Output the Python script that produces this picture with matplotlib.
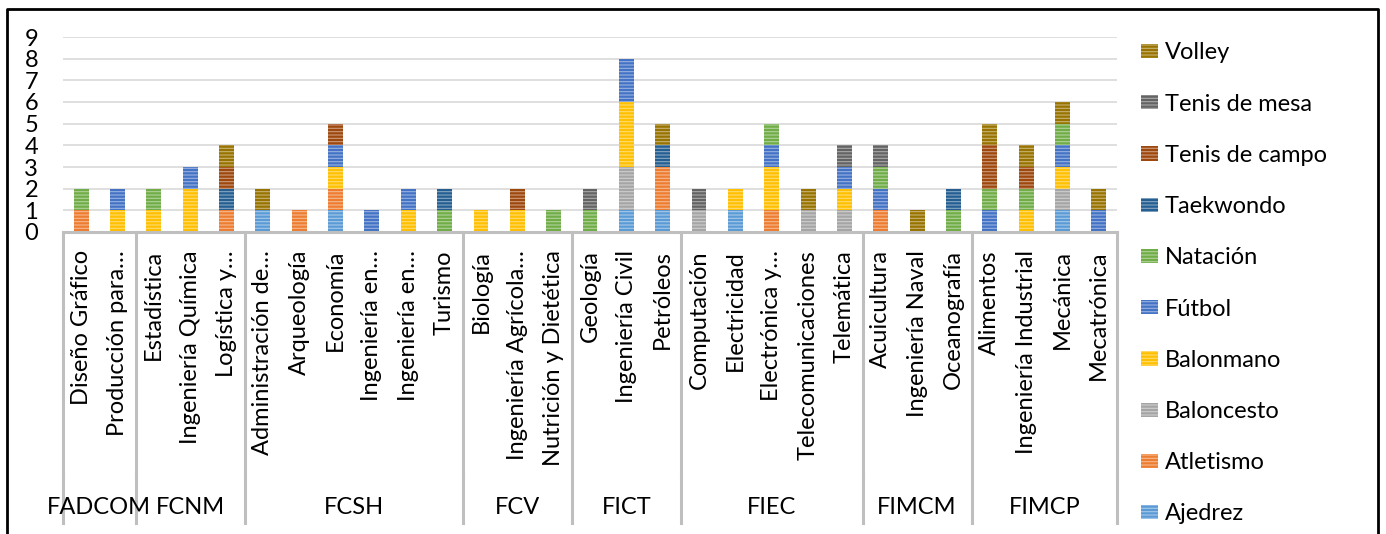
import numpy as np
import matplotlib
matplotlib.use("Agg")
import matplotlib.pyplot as plt
import matplotlib.transforms as mtrans
from matplotlib.lines import Line2D
from matplotlib.patches import Patch
from matplotlib.colors import to_rgb

plt.rcParams['font.family'] = ['Lato', 'DejaVu Sans']
plt.rcParams['hatch.linewidth'] = 0.8

carreras = ["Diseño Gráfico", "Producción para…", "Estadística", "Ingeniería Química",
            "Logística y…", "Administración de…", "Arqueología", "Economía",
            "Ingeniería en…", "Ingeniería en…", "Turismo", "Biología",
            "Ingeniería Agrícola…", "Nutrición y Dietética", "Geología",
            "Ingeniería Civil", "Petróleos", "Computación", "Electricidad",
            "Electrónica y…", "Telecomunicaciones", "Telemática", "Acuicultura",
            "Ingeniería Naval", "Oceanografía", "Alimentos", "Ingeniería Industrial",
            "Mecánica", "Mecatrónica"]
facultades = ["FADCOM", "FCNM", "FCSH", "FCV", "FICT", "FIEC", "FIMCM", "FIMCP"]
n_carreras = [2, 3, 6, 3, 3, 5, 3, 4]

deportes = ["Ajedrez", "Atletismo", "Baloncesto", "Balonmano", "Fútbol",
            "Natación", "Taekwondo", "Tenis de campo", "Tenis de mesa", "Volley"]
ajedrez     = [0,0,0,0,0, 1,0,1,0,0,0, 0,0,0, 0,1,1, 0,1,0,0,0, 0,0,0, 0,0,1,0]
atletismo   = [1,0,0,0,1, 0,1,1,0,0,0, 0,0,0, 0,0,2, 0,0,1,0,0, 1,0,0, 0,0,0,0]
baloncesto  = [0,0,0,0,0, 0,0,0,0,0,0, 0,0,0, 0,2,0, 1,0,0,1,1, 0,0,0, 0,0,1,0]
balonmano   = [0,1,1,2,0, 0,0,1,0,1,0, 1,1,0, 0,3,0, 0,1,2,0,1, 0,0,0, 0,1,1,0]
futbol      = [0,1,0,1,0, 0,0,1,1,1,0, 0,0,0, 0,2,0, 0,0,1,0,1, 1,0,0, 1,0,1,1]
natacion    = [1,0,1,0,0, 0,0,0,0,0,1, 0,0,1, 1,0,0, 0,0,1,0,0, 1,0,1, 1,1,1,0]
taekwondo   = [0,0,0,0,1, 0,0,0,0,0,1, 0,0,0, 0,0,1, 0,0,0,0,0, 0,0,1, 0,0,0,0]
tenis_campo = [0,0,0,0,1, 0,0,1,0,0,0, 0,1,0, 0,0,0, 0,0,0,0,0, 0,0,0, 2,1,0,0]
tenis_mesa  = [0,0,0,0,0, 0,0,0,0,0,0, 0,0,0, 1,0,0, 1,0,0,0,1, 1,0,0, 0,0,0,0]
volley      = [0,0,0,0,1, 1,0,0,0,0,0, 0,0,0, 0,0,1, 0,0,0,1,0, 0,1,0, 1,1,1,1]
series = [ajedrez, atletismo, baloncesto, balonmano, futbol,
          natacion, taekwondo, tenis_campo, tenis_mesa, volley]
colores = ["#5B9BD5", "#ED7D31", "#A5A5A5", "#FFC000", "#4472C4",
           "#70AD47", "#255E91", "#9E480E", "#636363", "#997300"]


def lighter(c, f=0.45):
    r, g, b = to_rgb(c)
    return (r + (1 - r) * f, g + (1 - g) * f, b + (1 - b) * f)


W, H = 1386, 534
fig = plt.figure(figsize=(W / 100, H / 100), dpi=100)
ax = fig.add_axes([63 / W, 302 / H, (1117 - 63) / W, (497 - 302) / H])

x = np.arange(len(carreras))
bottom = np.zeros(len(carreras))
handles = []
for nombre, vals, col in zip(deportes, series, colores):
    vals = np.array(vals, dtype=float)
    ax.bar(x, vals, 0.41, bottom=bottom, color=col, edgecolor=lighter(col),
           linewidth=0, hatch="-----")
    bottom += vals
    handles.append(Patch(facecolor=col, edgecolor=lighter(col), linewidth=0,
                         hatch="-----", label=nombre))

ax.set_xlim(-0.5, len(carreras) - 0.5)
ax.set_ylim(0, 9)
ax.set_yticks(range(10))
ax.yaxis.grid(True, color="#D9D9D9", linewidth=1.2)
ax.set_axisbelow(True)
for s in ["top", "right", "left"]:
    ax.spines[s].set_visible(False)
ax.spines["bottom"].set_color("#BFBFBF")
ax.spines["bottom"].set_linewidth(2.2)
ax.tick_params(axis="y", length=0, pad=18, labelsize=17)
ax.set_xticks(x)
ax.set_xticklabels(carreras, rotation=90, fontsize=17)
ax.tick_params(axis="x", length=0, pad=13)

# faculty level of the axis
tr = mtrans.blended_transform_factory(ax.transData, fig.transFigure)
edges = np.concatenate([[0], np.cumsum(n_carreras)]) - 0.5
for e in edges:
    fig.add_artist(Line2D([e, e], [61 / H, 302 / H], transform=tr,
                          color="#BFBFBF", linewidth=2.2))
    fig.add_artist(Line2D([e, e], [11 / H, 59 / H], transform=tr,
                          color="#BFBFBF", linewidth=2.2))
for i, fac in enumerate(facultades):
    xc = (edges[i] + edges[i + 1]) / 2
    fig.text(xc, 27 / H, fac, transform=tr, ha="center", va="center", fontsize=17)

fig.legend(handles=handles[::-1], loc="upper left",
           bbox_to_anchor=(1132 / W, 1 - 33 / H), frameon=False, fontsize=17,
           handlelength=0.7, handleheight=0.55, handletextpad=0.3,
           labelspacing=1.28, borderaxespad=0)

# outer chart border (bottom edge falls outside the image)
bx = [7 / W, 7 / W, 1378 / W, 1378 / W]
by = [-0.1, 1 - 9 / H, 1 - 9 / H, -0.1]
fig.add_artist(Line2D(bx, by, transform=fig.transFigure, color="black", linewidth=2))

fig.savefig("out.png", dpi=100)
